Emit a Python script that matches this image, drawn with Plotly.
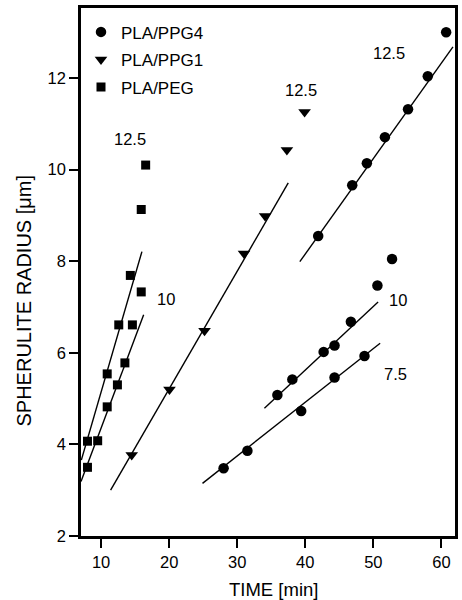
import plotly.graph_objects as go

# Spherulite radius vs. time, three blends at several crystallization temperatures
FONT = "Liberation Sans, Arial, sans-serif"

# PLA/PPG4 (circles)
ppg4_time = [28.0, 31.5, 39.4, 44.3, 48.7,
             35.9, 38.1, 42.7, 44.3, 46.7, 50.6, 52.75,
             41.9, 46.9, 49.05, 51.7, 55.1, 58.0, 60.7]
ppg4_radius = [3.48, 3.86, 4.73, 5.46, 5.93,
               5.08, 5.42, 6.02, 6.16, 6.68, 7.47, 8.05,
               8.55, 9.66, 10.14, 10.71, 11.32, 12.04, 13.0]

# PLA/PPG1 (down triangles)
ppg1_time = [14.5, 20.05, 25.2, 31.0, 34.1, 37.3, 39.9]
ppg1_radius = [3.77, 5.2, 6.48, 8.17, 8.99, 10.43, 11.26]

# PLA/PEG (squares)
peg_time = [8.0, 8.0, 9.5, 10.9, 10.9, 12.4, 12.6, 13.5, 14.3, 14.6, 15.9, 15.9, 16.55]
peg_radius = [3.5, 4.07, 4.08, 4.82, 5.54, 5.30, 6.61, 5.78, 7.69, 6.61, 7.33, 9.13, 10.1]

# Linear fits: (start time, end time), (start radius, end radius)
fit_time = [
    (24.9, 51.0),   # PPG4 7.5
    (34.0, 50.7),   # PPG4 10
    (39.2, 61.7),   # PPG4 12.5
    (11.4, 37.5),   # PPG1
    (7.1, 16.0),    # PEG upper
    (7.05, 16.26),  # PEG lower
]
fit_radius = [
    (3.15, 6.21),
    (4.79, 7.11),
    (7.99, 12.68),
    (3.0, 9.71),
    (3.66, 8.21),
    (3.19, 6.83),
]

# Temperature labels
label_text = ["12.5", "12.5", "12.5", "10", "10", "7.5"]
label_time = [52.3, 39.35, 14.3, 19.5, 53.6, 53.3]
label_radius = [12.54, 11.75, 10.68, 7.17, 7.15, 5.54]

fig = go.Figure()

for xs, ys in zip(fit_time, fit_radius):
    fig.add_trace(go.Scatter(x=list(xs), y=list(ys), mode="lines",
                             line=dict(color="black", width=1.4),
                             showlegend=False, hoverinfo="skip"))

fig.add_trace(go.Scatter(x=ppg4_time, y=ppg4_radius, mode="markers", name="PLA/PPG4",
                         legendgroup="a",
                         marker=dict(symbol="circle", size=10.5, color="black")))
fig.add_trace(go.Scatter(x=ppg1_time, y=ppg1_radius, mode="markers", name="PLA/PPG1",
                         legendgroup="b",
                         marker=dict(symbol="triangle-down", size=11, color="black")))
fig.add_trace(go.Scatter(x=peg_time, y=peg_radius, mode="markers", name="PLA/PEG",
                         legendgroup="c",
                         marker=dict(symbol="square", size=9, color="black")))

for t, xv, yv in zip(label_text, label_time, label_radius):
    fig.add_annotation(x=xv, y=yv, text=t, showarrow=False,
                       font=dict(family=FONT, size=16.5, color="black"))

# Axis titles
fig.add_annotation(xref="paper", yref="paper", x=0, y=0.446, xshift=-57,
                   text="SPHERULITE RADIUS [μm]", textangle=-90, showarrow=False,
                   xanchor="center", yanchor="middle",
                   font=dict(family=FONT, size=20, color="black"))
fig.add_annotation(xref="paper", yref="paper", x=0.5157, y=0, yshift=-53,
                   text="TIME [min]", showarrow=False,
                   xanchor="center", yanchor="middle",
                   font=dict(family=FONT, size=18.5, color="black"))

axis_common = dict(showline=True, linecolor="black", linewidth=2.5, mirror=True,
                   ticks="outside", ticklen=9, tickwidth=1.5, tickcolor="black",
                   showgrid=False, zeroline=False,
                   tickfont=dict(family=FONT, size=16.5, color="black"))

fig.update_xaxes(range=[7.05, 62.0], tickvals=[10, 20, 30, 40, 50, 60], **axis_common)
fig.update_yaxes(range=[2, 13.53], tickvals=[2, 4, 6, 8, 10, 12], **axis_common)

fig.update_layout(
    width=462, height=600,
    margin=dict(l=81, r=4, t=8, b=64),
    plot_bgcolor="white", paper_bgcolor="white",
    font=dict(family=FONT, color="black"),
    legend=dict(x=0.0, y=0.988, xanchor="left", yanchor="top",
                bgcolor="rgba(0,0,0,0)", traceorder="grouped",
                tracegroupgap=2.5, font=dict(family=FONT, size=17, color="black")),
)

fig.write_html("out.html")
